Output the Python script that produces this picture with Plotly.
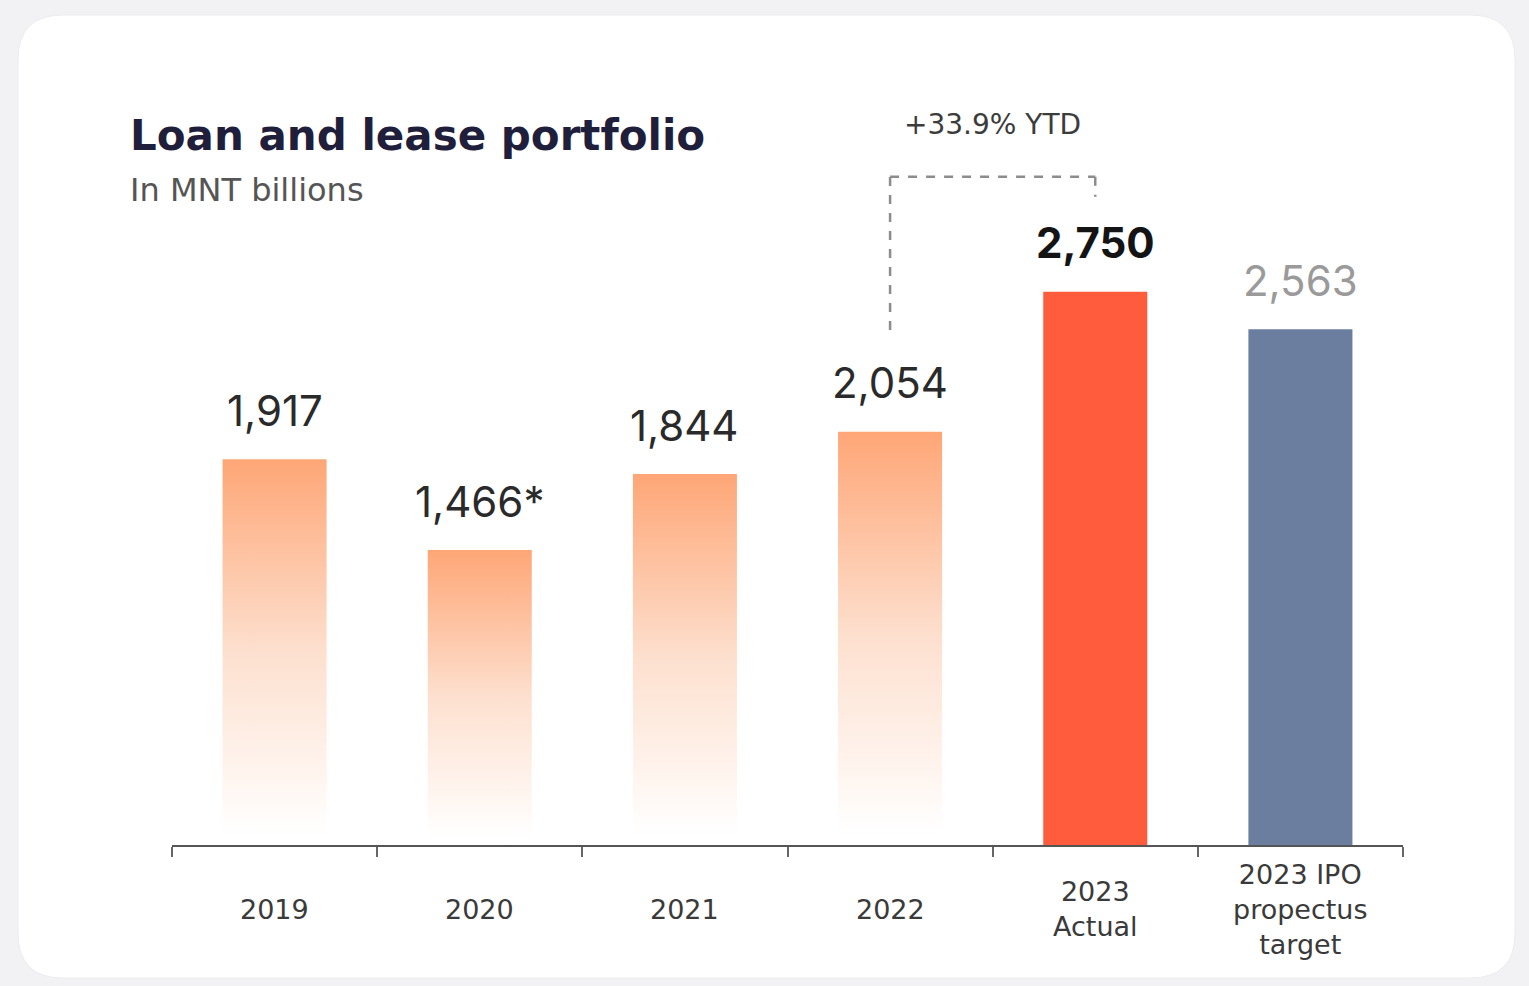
import plotly.graph_objects as go

# Loan and lease portfolio, MNT billions
categories = ["2019", "2020", "2021", "2022", "2023<br>Actual", "2023 IPO<br>propectus<br>target"]
values = [1917, 1466, 1844, 2054, 2750, 2563]
value_labels = ["1,917", "1,466*", "1,844", "2,054", "2,750", "2,563"]

W, H = 1529, 986
NUM_FONT = "Inter, Noto Sans, sans-serif"
TXT_FONT = "DejaVu Sans, Noto Sans, sans-serif"
BAR_W = 0.507
GRAD_TOP = "#fea676"
ACTUAL_COLOR = "#ff5c3d"
TARGET_COLOR = "#6b7ea0"

n = len(categories)
idx = list(range(n))

fig = go.Figure()

# historical years: bars fading from peach to white towards the baseline
for i in idx[:4]:
    x0, x1 = i - BAR_W / 2, i + BAR_W / 2
    v = values[i]
    fig.add_trace(go.Scatter(
        x=[x0, x1, x1, x0, x0], y=[0, 0, v, v, 0],
        mode="lines", line=dict(width=0), fill="toself",
        fillgradient=dict(
            type="vertical", start=0, stop=v,
            colorscale=[[0, "rgba(255,255,255,0)"], [0.1, "#fffaf7"],
                        [0.5, "#fde0cf"], [1, GRAD_TOP]],
        ),
        hoverinfo="skip", showlegend=False,
    ))

# 2023 actual and IPO target as solid bars
fig.add_trace(go.Bar(
    x=idx[4:], y=values[4:], width=BAR_W,
    marker=dict(color=[ACTUAL_COLOR, TARGET_COLOR], line=dict(width=0)),
    showlegend=False, hoverinfo="skip",
))

# value labels above each bar
label_styles = [
    dict(color="#2a2a2a", weight=400),
    dict(color="#2a2a2a", weight=400),
    dict(color="#2a2a2a", weight=400),
    dict(color="#2a2a2a", weight=400),
    dict(color="#141414", weight=700),
    dict(color="#9a9a9a", weight=400),
]
for i in idx:
    st = label_styles[i]
    fig.add_annotation(
        x=i, y=values[i], xref="x", yref="y", text=value_labels[i],
        showarrow=False, yanchor="middle", yshift=49,
        font=dict(family=NUM_FONT, size=42, color=st["color"], weight=st["weight"]),
    )

# category labels, vertically centred under the axis
for i in idx:
    fig.add_annotation(
        x=i, y=(H - 909) / H, xref="x", yref="paper", text=categories[i],
        showarrow=False, yanchor="middle",
        font=dict(family=TXT_FONT, size=27, color="#3a3a3a"),
    )

# growth bracket from 2022 to 2023 actual
growth = (values[4] / values[3] - 1) * 100
b_low, b_top, b_right = 2560, 3322, 3222
dash = dict(color="#8c8c8c", width=2.5, dash="dash")
fig.add_shape(type="line", x0=3, x1=3, y0=b_low, y1=b_top, line=dash)
fig.add_shape(type="line", x0=3, x1=4, y0=b_top, y1=b_top, line=dash)
fig.add_shape(type="line", x0=4, x1=4, y0=b_top, y1=b_right, line=dash)
fig.add_annotation(
    x=3.5, y=3583, xref="x", yref="y", text=f"+{growth:.1f}% YTD",
    showarrow=False, yanchor="middle",
    font=dict(family=TXT_FONT, size=28, color="#3c3c3c"),
)

# title and subtitle
fig.add_annotation(
    x=128 / W, y=1 - 135 / H, xref="paper", yref="paper",
    text="Loan and lease portfolio", showarrow=False,
    xanchor="left", yanchor="middle",
    font=dict(family=TXT_FONT, size=42, color="#1f1e3b", weight=700),
)
fig.add_annotation(
    x=128 / W, y=1 - 190 / H, xref="paper", yref="paper",
    text="In MNT billions", showarrow=False,
    xanchor="left", yanchor="middle",
    font=dict(family=TXT_FONT, size=32, color="#555555"),
)

# white rounded card on the grey page
cx0, cx1 = 18 / W, 1515 / W
cy0, cy1 = 1 - 978 / H, 1 - 15 / H
rx, ry = 45 / W, 45 / H
card = (
    f"M {cx0 + rx} {cy1} L {cx1 - rx} {cy1} Q {cx1} {cy1} {cx1} {cy1 - ry} "
    f"L {cx1} {cy0 + ry} Q {cx1} {cy0} {cx1 - rx} {cy0} "
    f"L {cx0 + rx} {cy0} Q {cx0} {cy0} {cx0} {cy0 + ry} "
    f"L {cx0} {cy1 - ry} Q {cx0} {cy1} {cx0 + rx} {cy1} Z"
)
fig.add_shape(type="path", path=card, xref="paper", yref="paper",
              fillcolor="white", line=dict(color="#ececef", width=1), layer="below")

fig.update_layout(
    width=W, height=H,
    margin=dict(l=0, r=0, t=0, b=0),
    paper_bgcolor="#f2f2f4", plot_bgcolor="rgba(0,0,0,0)",
    showlegend=False,
    xaxis=dict(
        domain=[172 / W, 1403 / W], range=[-0.5, n - 0.5],
        showgrid=False, zeroline=False,
        showline=True, linecolor="#555555", linewidth=2,
        tickvals=idx, ticktext=[""] * n, ticks="",
        minor=dict(tickvals=[i - 0.5 for i in range(n + 1)], ticks="outside",
                   ticklen=10, tickwidth=2, tickcolor="#666666", showgrid=False),
        fixedrange=True,
    ),
    yaxis=dict(
        domain=[(H - 845) / H, 1], range=[0, 4200],
        visible=False, fixedrange=True,
    ),
)

fig.write_html("out.html")
